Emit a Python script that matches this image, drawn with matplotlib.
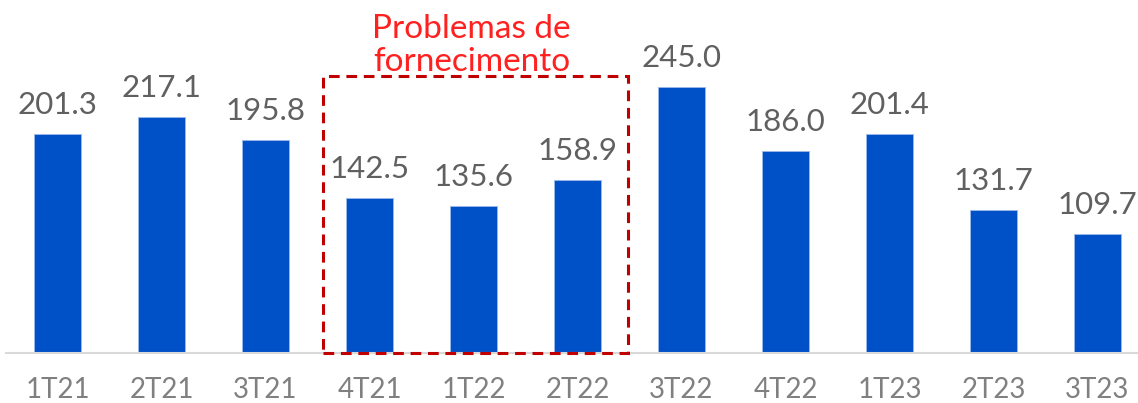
import matplotlib

matplotlib.use('Agg')
import matplotlib.pyplot as plt
from matplotlib.patches import Rectangle

# dados trimestrais
quarters = ['1T21', '2T21', '3T21', '4T21', '1T22', '2T22',
            '3T22', '4T22', '1T23', '2T23', '3T23']
values = [201.3, 217.1, 195.8, 142.5, 135.6, 158.9,
          245.0, 186.0, 201.4, 131.7, 109.7]
note = 'Problemas de\nfornecimento'

plt.rcParams['font.family'] = ['Lato', 'DejaVu Sans']

fig = plt.figure(figsize=(11.38, 4.03), dpi=100)
ax = fig.add_axes([5.5 / 1138, 50 / 403, 1144 / 1138, 353 / 403])

x = list(range(len(quarters)))
ax.bar(x, values, width=0.45, color='#0050C8', edgecolor='#9DB8E8', linewidth=0.6, zorder=2)

for xi, v in zip(x, values):
    ax.annotate(f'{v:.1f}', (xi, v), xytext=(0, 14.4), textcoords='offset points',
                ha='center', va='baseline', fontsize=22.5, color='#606060')

# caixa tracejada em volta dos trimestres com problema
box = Rectangle((2.55, 0), 2.94, 255, fill=False, edgecolor='#C00000',
                linestyle=(0, (3.5, 2.2)), linewidth=2.2, zorder=3, clip_on=False)
ax.add_patch(box)
ax.text(3.98, 260, note, ha='center', va='baseline', fontsize=24, color='#FF2020',
        linespacing=1.1)

ax.set_xlim(-0.5, 10.5)
ax.set_ylim(0, 325)
ax.set_xticks(x)
ax.set_xticklabels(quarters, fontsize=20, color='#808080')
ax.tick_params(axis='x', length=0, pad=17)
ax.set_yticks([])
for s in ['top', 'right', 'left']:
    ax.spines[s].set_visible(False)
ax.spines['bottom'].set_color('#D9D9D9')
ax.spines['bottom'].set_linewidth(1.5)

fig.savefig('out.png', dpi=100)
